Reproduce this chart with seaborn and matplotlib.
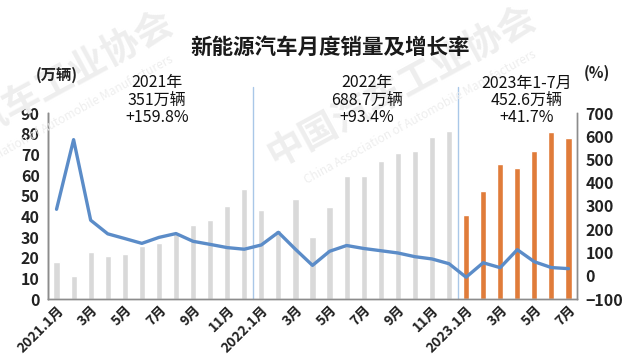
import numpy as np
import pandas as pd
import matplotlib
matplotlib.use("Agg")
import matplotlib.pyplot as plt
import seaborn as sns

# monthly NEV sales (万辆) and yoy growth (%)
sales_2021 = [17.9, 11.0, 22.6, 20.6, 21.7, 25.6, 27.1, 32.1, 35.7, 38.3, 45.0, 53.1]
sales_2022 = [43.1, 33.4, 48.4, 29.9, 44.7, 59.6, 59.3, 66.6, 70.8, 71.4, 78.6, 81.4]
sales_2023 = [40.8, 52.5, 65.3, 63.6, 71.7, 80.6, 78.0]

growth_2021 = [285.8, 585.4, 238.9, 180.3, 160.0, 139.3, 164.9, 181.5, 148.1, 134.9, 121.1, 114.1]
growth_2022 = [132.4, 186.9, 114.0, 44.6, 105.2, 130.1, 117.3, 107.7, 98.0, 82.0, 72.3, 51.8]
growth_2023 = [-6.3, 55.9, 34.8, 112.1, 60.2, 35.2, 30.6]

tick_labels = ["2021.1月", "3月", "5月", "7月", "9月", "11月",
               "2022.1月", "3月", "5月", "7月", "9月", "11月",
               "2023.1月", "3月", "5月", "7月"]

notes = ["2021年\n351万辆\n+159.8%", "2022年\n688.7万辆\n+93.4%", "2023年1-7月\n452.6万辆\n+41.7%"]

sales = sales_2021 + sales_2022 + sales_2023
growth = growth_2021 + growth_2022 + growth_2023
grp = ["old"] * (len(sales_2021) + len(sales_2022)) + ["new"] * len(sales_2023)
df = pd.DataFrame({"idx": np.arange(len(sales)), "sales": sales, "growth": growth, "grp": grp})

sns.set_style("white")
plt.rcParams["font.family"] = ["Noto Sans CJK SC", "DejaVu Sans"]

W, H = 640, 354
fig = plt.figure(figsize=(6.4, 3.54), dpi=100)
ax = fig.add_axes([48 / W, 1 - 299 / H, (577 - 48) / W, (299 - 113) / H])


def px(x, y):
    return x / W, 1 - y / H


# watermark
wm = "#eeeeee"
for cx, cy in [(38, 90), (401, 85)]:
    fig.text(*px(cx, cy), "中国汽车工业协会", fontsize=27, color=wm, rotation=28.5,
             ha="center", va="center", fontweight="bold", zorder=0)
    fig.text(*px(cx + 19, cy + 32), "China Association of Automobile Manufacturers",
             fontsize=8.5, color=wm, rotation=29, ha="center", va="center", zorder=0)

sns.barplot(data=df, x="idx", y="sales", hue="grp", palette={"old": "#d9d9d9", "new": "#e07c3a"},
            dodge=False, width=0.36, legend=False, ax=ax, saturation=1, zorder=2)
ax.patch.set_alpha(0)

ax2 = ax.twinx()
sns.lineplot(data=df, x="idx", y="growth", color="#5b8cc8", linewidth=2.4, ax=ax2, zorder=3)

ax.set_xlim(-0.5, len(sales) - 0.5)
ax2.set_xlim(-0.5, len(sales) - 0.5)
ax.set_ylim(0, 90)
ax.set_yticks(range(0, 91, 10))
ax2.set_ylim(-100, 700)
ax2.set_yticks(range(-100, 701, 100))

ax.set_xticks(range(0, len(sales), 2))
ax.set_xticklabels(tick_labels, rotation=45, ha="right", rotation_mode="anchor",
                   fontsize=10, fontweight="bold", color="#222222")
ax.tick_params(axis="x", length=0, pad=3)
ax.tick_params(axis="y", length=0, labelsize=11.5, labelcolor="#222222", pad=6)
ax2.tick_params(axis="y", length=0, labelsize=11.5, labelcolor="#222222", pad=6)
for lab in ax.get_yticklabels() + ax2.get_yticklabels():
    lab.set_fontweight("bold")
ax.set_xlabel("")
ax.set_ylabel("")
ax2.set_xlabel("")
ax2.set_ylabel("")

for a in (ax, ax2):
    a.spines["top"].set_visible(False)
    for s in ("left", "right", "bottom"):
        a.spines[s].set_color("#8c8c8c")
        a.spines[s].set_linewidth(1)
ax.spines["left"].set_color("#404040")

# year separators
for xpos in (len(sales_2021) - 0.5, len(sales_2021) + len(sales_2022) - 0.5):
    ax.axvline(xpos, ymin=0, ymax=1.14, color="#a9c7e8", linewidth=1, clip_on=False, zorder=1)

fig.text(*px(330, 47), "新能源汽车月度销量及增长率", fontsize=15.5, fontweight="bold",
         ha="center", va="center", color="#1a1a1a")
fig.text(*px(57, 75), "(万辆)", fontsize=11, fontweight="bold", ha="center", va="center", color="#222222")
fig.text(*px(597, 73), "(%)", fontsize=11, fontweight="bold", ha="center", va="center", color="#222222")

for cx, note in zip([157, 367, 527], notes):
    fig.text(*px(cx, 100), note, fontsize=11.5, ha="center", va="center",
             linespacing=1.0, color="#111111")

fig.savefig("out.png", dpi=100)
